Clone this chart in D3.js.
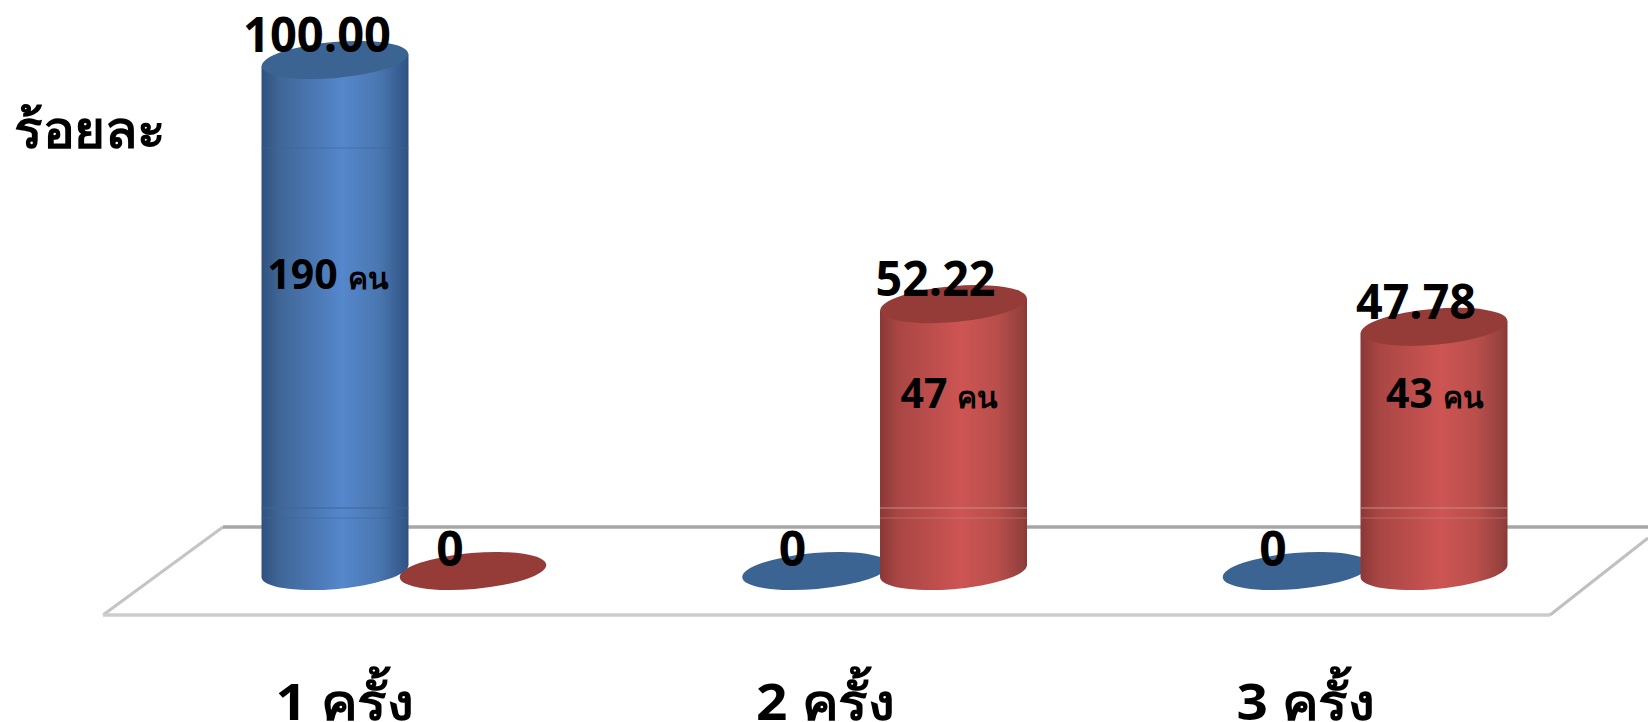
<!DOCTYPE html>
<html><head><meta charset="utf-8">
<script src="https://cdn.jsdelivr.net/npm/d3@7/dist/d3.min.js"></script>
<style>
html,body{margin:0;padding:0;background:#fff;overflow:hidden}
svg{display:block}
text{font-family:"Open Sans","Noto Sans","DejaVu Sans",sans-serif;font-weight:700;fill:#000}
</style></head><body>
<svg id="c" width="1648" height="722"></svg>
<script>
const categories=["1 ครั้ง","2 ครั้ง","3 ครั้ง"];
const seriesA=[100,0,0];
const seriesB=[0,52.22,47.78];
const seriesAText=["100.00","0","0"];
const seriesBText=["0","52.22","47.78"];
const peopleA=["190","",""];
const peopleB=["","47","43"];
const unit="คน";
const yTitle="ร้อยละ";

const svg=d3.select("#c");
const x=d3.scalePoint().domain(categories).range([404,1365]);
const y=d3.scaleLinear().domain([0,100]).range([571,60]);
const offA=-69,offB=69,rx=73.5,ry=18,tilt=-5,edge=6;

const defs=svg.append("defs");
function grad(id,stops){
  const g=defs.append("linearGradient").attr("id",id);
  stops.forEach(([o,c])=>g.append("stop").attr("offset",o).attr("stop-color",c));
}
grad("gA",[[0,"#2f5180"],[.12,"#3f6696"],[.55,"#5587cc"],[.8,"#4a77b0"],[.97,"#33588a"],[1,"#2f5180"]]);
grad("gB",[[0,"#8a3836"],[.12,"#a84644"],[.55,"#cd5553"],[.8,"#b84e4b"],[.97,"#93403d"],[1,"#8a3836"]]);

// floor
const floor=svg.append("g").attr("fill","none");
floor.append("path").attr("d",d3.line()([[103,615],[223,527]])).attr("stroke","#c4c4c4").attr("stroke-width",3);
floor.append("path").attr("d",d3.line()([[223,527],[1648,527]])).attr("stroke","#a6a6a6").attr("stroke-width",3.5);
floor.append("path").attr("d",d3.line()([[103,615],[1550,615]])).attr("stroke","#cccccc").attr("stroke-width",3.5);
floor.append("path").attr("d",d3.line()([[1550,615],[1648,538]])).attr("stroke","#c0c0c0").attr("stroke-width",3);

function cyl(g,cx,v,fill,top,seamColor){
  const yt=y(v),yb=y(0);
  if(v>0){
    g.append("path").attr("fill",fill)
     .attr("d",`M${cx-rx},${yt+edge}V${yb+edge}A${rx},${ry} ${tilt} 0 0 ${cx+rx},${yb-edge}V${yt-edge}Z`);
    [508,518].forEach((s,k)=>g.append("path").attr("d",d3.line()([[cx-rx,s],[cx+rx,s]]))
      .attr("stroke",seamColor).attr("stroke-width",1).attr("opacity",k?0.5:1));
    if(v===100) g.append("path").attr("d",d3.line()([[cx-rx,148],[cx+rx,148]])).attr("stroke",seamColor).attr("stroke-width",1).attr("opacity",.6);
  }
  g.append("ellipse").attr("cx",cx).attr("cy",yt).attr("rx",rx).attr("ry",ry)
   .attr("transform",`rotate(${tilt} ${cx} ${yt})`).attr("fill",top);
}
const marks=svg.append("g");
categories.forEach((c,i)=>{
  // the zero-height disc sits behind the tall cylinder
  const a={cx:x(c)+offA,v:seriesA[i],f:"url(#gA)",t:"#3c6493",s:"#3f6696"};
  const b={cx:x(c)+offB,v:seriesB[i],f:"url(#gB)",t:"#953c39",s:"#c98a8a"};
  (a.v===0?[a,b]:[b,a]).forEach(m=>cyl(marks,m.cx,m.v,m.f,m.t,m.s));
});

function fit(sel,len){return sel.attr("textLength",len).attr("lengthAdjust","spacingAndGlyphs");}

// category axis
const axisG=svg.append("g").attr("transform","translate(-60,672)")
  .call(d3.axisBottom(x).tickSize(0).tickPadding(0));
axisG.select(".domain").remove();
axisG.selectAll("text").attr("y",0).attr("dy",48).attr("font-size",50)
  .style("font-family",'"Open Sans","Noto Sans","DejaVu Sans",sans-serif').style("font-weight",700);
axisG.selectAll("text").each(function(){fit(d3.select(this),138);});

// value labels
const peopleShift=[-7,-4,1];
const valueLabels=svg.append("g").attr("text-anchor","middle").attr("font-size",48);
categories.forEach((c,i)=>{
  const pairs=[[seriesA[i],seriesAText[i],peopleA[i],offA],[seriesB[i],seriesBText[i],peopleB[i],offB]];
  pairs.forEach(([v,t,p,o])=>{
    const big=v>0;
    const px=x(c)+o+(big?-18:-23);
    const py=big?y(v)-8:566;
    const tx=valueLabels.append("text").attr("x",px).attr("y",py).text(t);
    if(big) fit(tx,t.length>5?148:120);
    if(p){
      const lb=valueLabels.append("text").attr("x",x(c)+o+peopleShift[i]).attr("y",i===0?289:408).attr("font-size",41);
      lb.append("tspan").text(p);
      lb.append("tspan").attr("font-size",30).attr("dx",10).text(unit);
    }
  });
});

// y title
fit(svg.append("text").attr("x",14).attr("y",148).attr("font-size",52).text(yTitle),152);
</script></body></html>
